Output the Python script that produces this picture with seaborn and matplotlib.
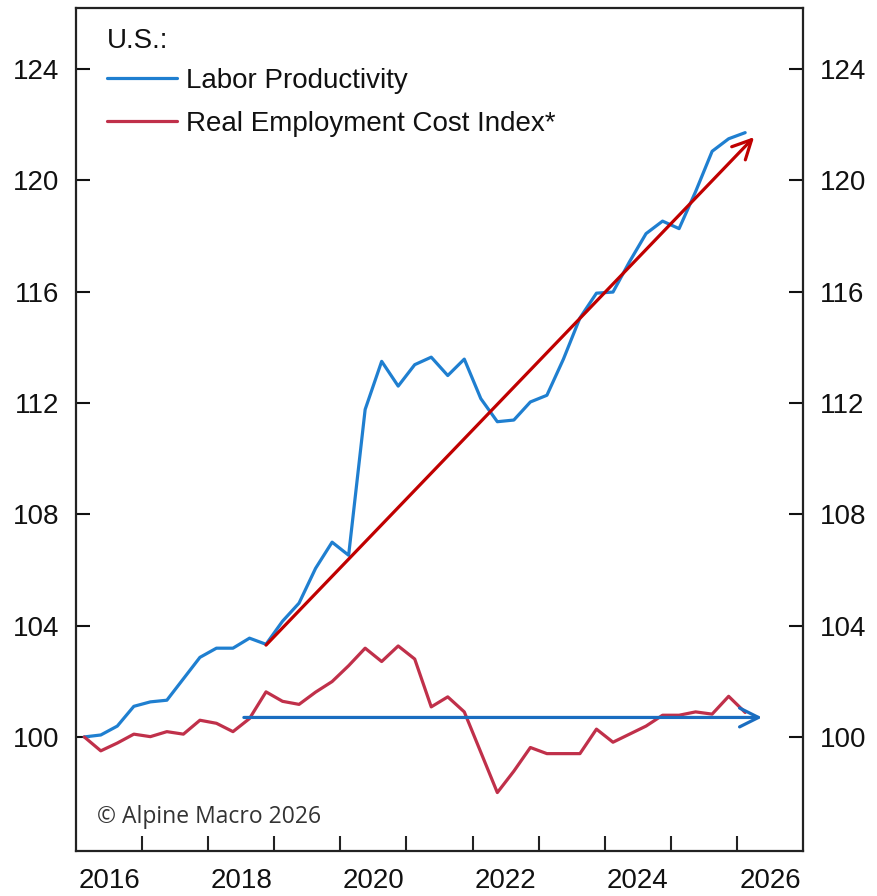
import matplotlib
matplotlib.use("Agg")
import matplotlib.pyplot as plt
import pandas as pd
import seaborn as sns
import numpy as np

# quarterly data, both series indexed to 100 at 2016Q1
quarters = [str(p) for p in pd.period_range("2016Q1", "2026Q1", freq="Q")]

labor_productivity = [
    100.0, 100.07, 100.39, 101.1, 101.26, 101.32, 102.09, 102.86, 103.19, 103.19,
    103.55, 103.33, 104.16, 104.81, 106.06, 107.0, 106.53, 111.77, 113.5, 112.61,
    113.38, 113.65, 112.99, 113.58, 112.16, 111.33, 111.39, 112.04, 112.28, 113.58,
    115.06, 115.95, 115.99, 117.08, 118.09, 118.54, 118.27, 119.6, 121.05, 121.5,
    121.72,
]

real_eci = [
    100.0, 99.5, 99.78, 100.1, 100.01, 100.19, 100.1, 100.6, 100.49, 100.19,
    100.66, 101.62, 101.28, 101.17, 101.61, 101.99, 102.56, 103.19, 102.71, 103.27,
    102.8, 101.08, 101.44, 100.9, 99.45, 98.0, 98.77, 99.62, 99.4, 99.4,
    99.4, 100.28, 99.81, 100.1, 100.39, 100.78, 100.78, 100.9, 100.82, 101.46,
    100.88,
]

series_names = ["Labor Productivity", "Real Employment Cost Index*"]

# trend arrows (start, end) in (year, index) units
red_arrow_start = (2018.875, 103.3)
red_arrow_end = (2026.26, 121.56)
blue_arrow_start = (2018.54, 100.7)
blue_arrow_end = (2026.38, 100.7)

year_labels = [2016, 2018, 2020, 2022, 2024, 2026]
y_ticks = [100, 104, 108, 112, 116, 120, 124]

## decimal year positions, plotted mid-quarter
per = pd.PeriodIndex(quarters, freq="Q")
xpos = per.year + (per.quarter - 1) / 4 + 0.125

df = pd.DataFrame({
    "x": np.concatenate([xpos, xpos]),
    "value": labor_productivity + real_eci,
    "series": [series_names[0]] * len(quarters) + [series_names[1]] * len(quarters),
})

sns.set_theme(style="ticks")
plt.rcParams["font.family"] = ["Liberation Sans", "DejaVu Sans"]
plt.rcParams["text.color"] = "#111111"

fig = plt.figure(figsize=(8.77, 8.96), dpi=100)
ax = fig.add_axes([76 / 877, 1 - 851 / 896, (803 - 76) / 877, (851 - 8) / 896])

palette = {series_names[0]: "#1f7fd0", series_names[1]: "#c0304a"}
sns.lineplot(data=df, x="x", y="value", hue="series", palette=palette,
             linewidth=2.3, ax=ax, legend=True)

ax.annotate("", xy=red_arrow_end, xytext=red_arrow_start,
            arrowprops=dict(arrowstyle="->", color="#c00000", lw=2.3,
                            mutation_scale=34, shrinkA=0, shrinkB=0))
ax.annotate("", xy=blue_arrow_end, xytext=blue_arrow_start,
            arrowprops=dict(arrowstyle="->", color="#1a6dc0", lw=2.3,
                            mutation_scale=34, shrinkA=0, shrinkB=0))

ax.set_xlim(2016, 2027)
ax.set_ylim(95.9, 126.2)
ax.set_xlabel("")
ax.set_ylabel("")

## tick marks at year boundaries, labels centred in the year
ax.set_xticks(np.arange(2017, 2027))
ax.set_xticklabels([])
ax.set_xticks([y + 0.5 for y in year_labels], minor=True)
ax.set_xticklabels([str(y) for y in year_labels], minor=True, fontsize=20)
ax.tick_params(axis="x", which="major", direction="in", length=11, width=1.5,
               color="#222222")
ax.tick_params(axis="x", which="minor", length=0, pad=12, colors="#111111")

ax.set_yticks(y_ticks)
ax.set_yticklabels([str(v) for v in y_ticks], fontsize=20)
ax.tick_params(axis="y", which="major", direction="in", length=10, width=1.5,
               left=True, right=True, labelleft=True, labelright=True,
               pad=12, colors="#111111")

for s in ax.spines.values():
    s.set_visible(True)
    s.set_linewidth(1.6)
    s.set_color("#222222")

leg = ax.legend(loc="upper left", title="U.S.:", frameon=False, fontsize=20,
                title_fontsize=20, alignment="left", handlelength=2.5,
                handletextpad=0.35, labelspacing=0.6, borderaxespad=0.3,
                bbox_to_anchor=(0.016, 0.999))
leg._legend_box.sep = 10
for line in leg.get_lines():
    line.set_linewidth(2.3)
for t in leg.get_texts():
    t.set_color("#111111")
leg.get_title().set_color("#111111")

ax.text(0.029, 0.04, "\u00a9 Alpine Macro 2026", transform=ax.transAxes,
        fontsize=16.5, color="#333333", family=["Open Sans", "DejaVu Sans"],
        va="center", ha="left")

fig.savefig("out.png", dpi=100)
